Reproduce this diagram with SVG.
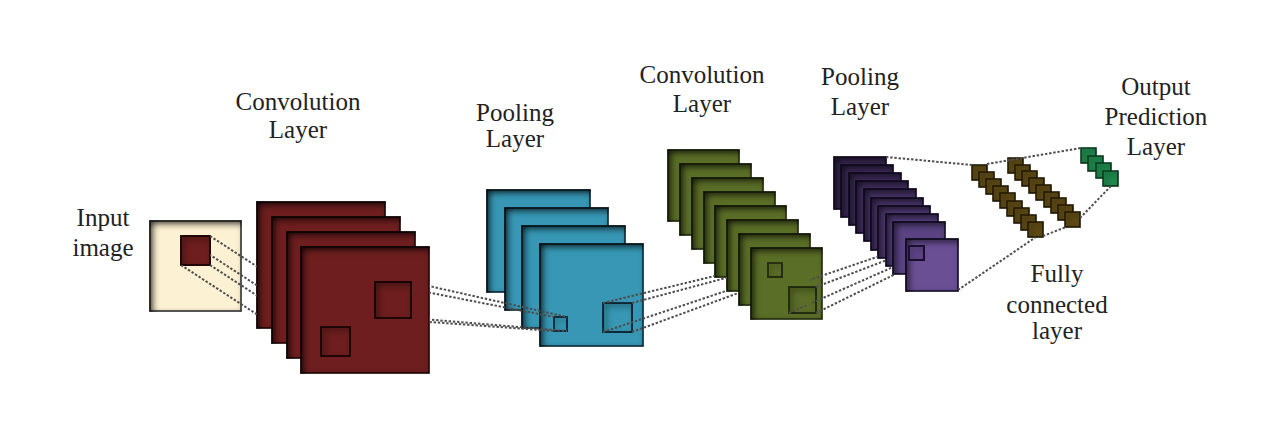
<svg xmlns="http://www.w3.org/2000/svg" width="1280" height="438" viewBox="0 0 1280 438">
<defs>
<style>
.lbl{font-family:"Liberation Serif","Times New Roman",serif;font-size:25px;fill:#222;text-anchor:middle}
.fr{stroke-width:1.6;filter:url(#inset)}
.sq{stroke-width:2;filter:url(#inset)}
.inp{fill:#fcf1d2;stroke:#3a3a3a}
.c1{fill:#6e1e1e;stroke:#240707}
.p1{fill:#3797b4;stroke:#0e2f3e}
.c2{fill:#5b6e27;stroke:#27310f}
.p2{stroke:#1a1030}
.fc{fill:#5f4b15;stroke:#221904}
.out{fill:#1f8b4e;stroke:#0a3a1e}
.cn{stroke:#4d4d4d;stroke-width:2;stroke-dasharray:2.4 1.8;fill:none}
</style>
<filter id="inset" x="-10%" y="-10%" width="120%" height="120%" color-interpolation-filters="sRGB">
<feFlood flood-color="#000" flood-opacity="0.85" result="f"/>
<feComposite in="f" in2="SourceAlpha" operator="out" result="o"/>
<feGaussianBlur in="o" stdDeviation="3.5" result="b"/>
<feOffset in="b" dx="2.5" dy="2.5" result="off"/>
<feComposite in="off" in2="SourceAlpha" operator="in" result="sh"/>
<feMerge><feMergeNode in="SourceGraphic"/><feMergeNode in="sh"/></feMerge>
</filter>
<mask id="hide" maskUnits="userSpaceOnUse" x="0" y="0" width="1280" height="438">
<rect x="0" y="0" width="1280" height="438" fill="#fff"/>
<g fill="#000">
<rect x="181" y="236" width="29" height="29"/>
<rect x="257" y="202" width="128" height="126"/>
<rect x="272" y="217" width="128" height="126"/>
<rect x="287" y="232" width="128" height="126"/>
<rect x="301" y="247" width="128" height="126"/>
<rect x="668" y="150" width="71" height="71"/>
<rect x="680" y="164" width="71" height="71"/>
<rect x="692" y="178" width="71" height="71"/>
<rect x="704" y="192" width="71" height="71"/>
<rect x="715" y="206" width="71" height="71"/>
<rect x="727" y="220" width="71" height="71"/>
<rect x="739" y="234" width="71" height="71"/>
<rect x="834" y="157" width="52" height="52"/>
<rect x="841" y="165" width="52" height="52"/>
<rect x="849" y="173" width="52" height="52"/>
<rect x="856" y="181" width="52" height="52"/>
<rect x="864" y="189" width="52" height="52"/>
<rect x="871" y="198" width="52" height="52"/>
<rect x="878" y="206" width="52" height="52"/>
<rect x="886" y="214" width="52" height="52"/>
<rect x="893" y="222" width="52" height="52"/>
</g>
</mask>
</defs>
<rect x="0" y="0" width="1280" height="438" fill="#fff"/>

<g id="input-image">
<rect class="inp fr" x="150" y="221" width="91" height="90"/>
<rect class="c1 sq" x="181" y="236" width="29" height="29"/>
<text class="lbl" x="103" y="226">Input</text>
<text class="lbl" x="103" y="256">image</text>
</g>

<g id="conv-layer-1">
<rect class="c1 fr" x="257" y="202" width="128" height="126"/>
<rect class="c1 fr" x="272" y="217" width="128" height="126"/>
<rect class="c1 fr" x="287" y="232" width="128" height="126"/>
<rect class="c1 fr" x="301" y="247" width="128" height="126"/>
<rect class="c1 sq" x="375" y="282" width="36" height="36"/>
<rect class="c1 sq" x="321" y="327" width="29" height="29"/>
<text class="lbl" x="298" y="110">Convolution</text>
<text class="lbl" x="298" y="138">Layer</text>
</g>

<g id="pooling-layer-1">
<rect class="p1 fr" x="487" y="190" width="103" height="102"/>
<rect class="p1 fr" x="505" y="208" width="103" height="102"/>
<rect class="p1 fr" x="522" y="226" width="103" height="102"/>
<rect class="p1 fr" x="540" y="244" width="103" height="102"/>
<rect class="p1 sq" x="554" y="317" width="13" height="14"/>
<rect class="p1 sq" x="603" y="303" width="29" height="29"/>
<text class="lbl" x="515" y="121">Pooling</text>
<text class="lbl" x="515" y="147">Layer</text>
</g>

<g id="conv-layer-2">
<rect class="c2 fr" x="668" y="150" width="71" height="71"/>
<rect class="c2 fr" x="680" y="164" width="71" height="71"/>
<rect class="c2 fr" x="692" y="178" width="71" height="71"/>
<rect class="c2 fr" x="704" y="192" width="71" height="71"/>
<rect class="c2 fr" x="715" y="206" width="71" height="71"/>
<rect class="c2 fr" x="727" y="220" width="71" height="71"/>
<rect class="c2 fr" x="739" y="234" width="71" height="71"/>
<rect class="c2 fr" x="751" y="248" width="71" height="71"/>
<rect class="c2 sq" x="768" y="263" width="14" height="14"/>
<rect class="c2 sq" x="789" y="287" width="27" height="26"/>
<text class="lbl" x="702" y="83">Convolution</text>
<text class="lbl" x="702" y="112">Layer</text>
</g>

<g id="pooling-layer-2">
<rect class="p2 fr" fill="#37264f" x="834" y="157" width="52" height="52"/>
<rect class="p2 fr" fill="#3a2854" x="841" y="165" width="52" height="52"/>
<rect class="p2 fr" fill="#3d2b59" x="849" y="173" width="52" height="52"/>
<rect class="p2 fr" fill="#402e5e" x="856" y="181" width="52" height="52"/>
<rect class="p2 fr" fill="#443164" x="864" y="189" width="52" height="52"/>
<rect class="p2 fr" fill="#48346a" x="871" y="198" width="52" height="52"/>
<rect class="p2 fr" fill="#4d3871" x="878" y="206" width="52" height="52"/>
<rect class="p2 fr" fill="#533d79" x="886" y="214" width="52" height="52"/>
<rect class="p2 fr" fill="#5a4382" x="893" y="222" width="52" height="52"/>
<rect class="p2 fr" fill="#6a4f95" x="906" y="239" width="52" height="52"/>
<rect class="p2 sq" fill="#5e4488" x="909" y="246" width="15" height="14"/>
<text class="lbl" x="860" y="85">Pooling</text>
<text class="lbl" x="860" y="115">Layer</text>
</g>

<g id="fully-connected-layer">
<rect class="fc fr" x="972" y="165" width="15" height="15"/>
<rect class="fc fr" x="979" y="172" width="15" height="15"/>
<rect class="fc fr" x="986" y="179" width="15" height="15"/>
<rect class="fc fr" x="993" y="186" width="15" height="15"/>
<rect class="fc fr" x="1000" y="193" width="15" height="15"/>
<rect class="fc fr" x="1007" y="201" width="15" height="15"/>
<rect class="fc fr" x="1014" y="208" width="15" height="15"/>
<rect class="fc fr" x="1021" y="215" width="15" height="15"/>
<rect class="fc fr" x="1028" y="222" width="15" height="15"/>
<rect class="fc fr" x="1008" y="158" width="15" height="15"/>
<rect class="fc fr" x="1015" y="165" width="15" height="15"/>
<rect class="fc fr" x="1022" y="171" width="15" height="15"/>
<rect class="fc fr" x="1029" y="178" width="15" height="15"/>
<rect class="fc fr" x="1036" y="185" width="15" height="15"/>
<rect class="fc fr" x="1044" y="192" width="15" height="15"/>
<rect class="fc fr" x="1051" y="198" width="15" height="15"/>
<rect class="fc fr" x="1058" y="205" width="15" height="15"/>
<rect class="fc fr" x="1065" y="212" width="15" height="15"/>
<text class="lbl" x="1057" y="282">Fully</text>
<text class="lbl" x="1057" y="313">connected</text>
<text class="lbl" x="1057" y="339">layer</text>
</g>

<g id="output-prediction-layer">
<rect class="out fr" x="1081" y="148" width="15" height="15"/>
<rect class="out fr" x="1088" y="156" width="15" height="15"/>
<rect class="out fr" x="1096" y="163" width="15" height="15"/>
<rect class="out fr" x="1103" y="171" width="15" height="15"/>
<text class="lbl" x="1156" y="95">Output</text>
<text class="lbl" x="1156" y="125">Prediction</text>
<text class="lbl" x="1156" y="155">Layer</text>
</g>

<g id="connectors" class="cn" mask="url(#hide)">
<line x1="181" y1="236" x2="321" y2="327"/>
<line x1="210" y1="236" x2="350" y2="327"/>
<line x1="210" y1="265" x2="350" y2="356"/>
<line x1="181" y1="265" x2="321" y2="356"/>
<line x1="375" y1="282" x2="554" y2="317"/>
<line x1="411" y1="282" x2="567" y2="317"/>
<line x1="411" y1="318" x2="567" y2="331"/>
<line x1="375" y1="318" x2="554" y2="331"/>
<line x1="603" y1="303" x2="768" y2="263"/>
<line x1="632" y1="303" x2="782" y2="263"/>
<line x1="632" y1="332" x2="782" y2="277"/>
<line x1="603" y1="332" x2="768" y2="277"/>
<line x1="789" y1="287" x2="909" y2="246"/>
<line x1="816" y1="287" x2="924" y2="246"/>
<line x1="816" y1="313" x2="924" y2="260"/>
<line x1="789" y1="313" x2="909" y2="260"/>
<line x1="886" y1="157" x2="972" y2="165"/>
<line x1="987" y1="164" x2="1081" y2="148"/>
<line x1="958" y1="290" x2="1036" y2="237"/>
<line x1="1043" y1="236" x2="1066" y2="227"/>
<line x1="1080" y1="218" x2="1111" y2="186"/>
</g>
</svg>
